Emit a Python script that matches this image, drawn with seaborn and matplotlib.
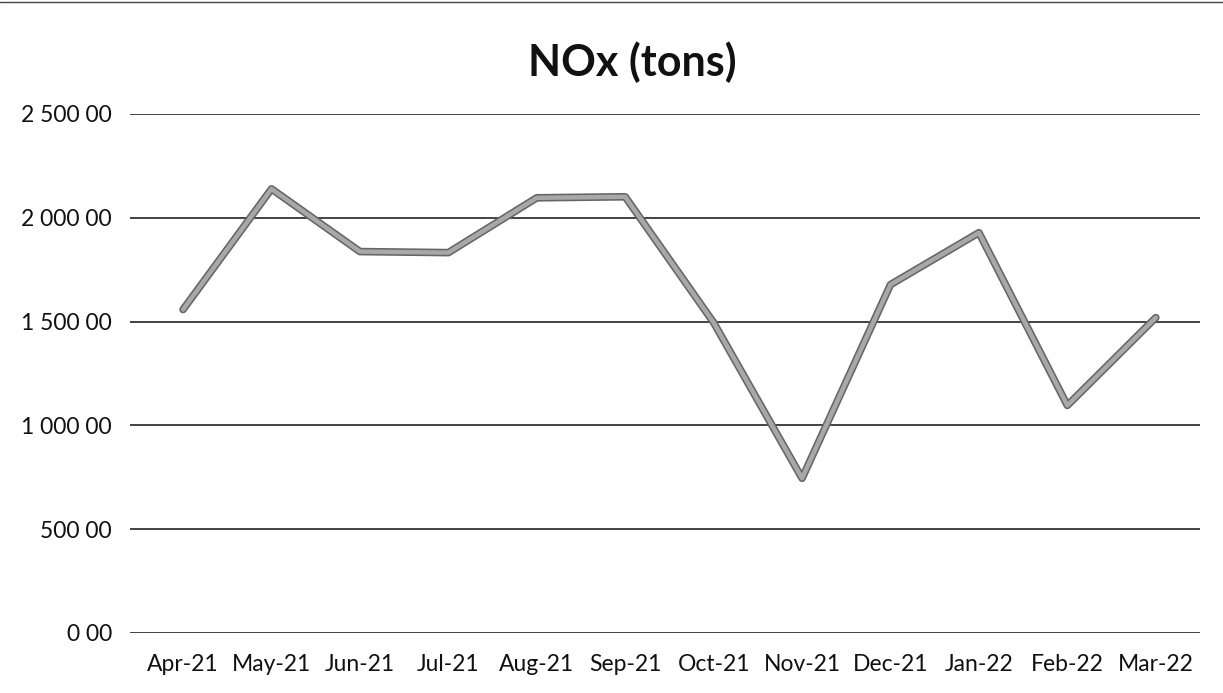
import seaborn as sns
import matplotlib.pyplot as plt
import matplotlib.patheffects as pe
from matplotlib.ticker import FuncFormatter
from matplotlib.lines import Line2D
import pandas as pd

months = ['Apr-21', 'May-21', 'Jun-21', 'Jul-21', 'Aug-21', 'Sep-21',
          'Oct-21', 'Nov-21', 'Dec-21', 'Jan-22', 'Feb-22', 'Mar-22']
nox = [1558, 2139, 1837, 1832, 2096, 2101, 1495, 745, 1678, 1928, 1096, 1519]
yticks = [0, 500, 1000, 1500, 2000, 2500]

df = pd.DataFrame({'Month': months, 'NOx': nox})
df['pos'] = range(len(months))

sns.set_theme(style="white")
plt.rcParams['font.family'] = ['Lato', 'DejaVu Sans']

fig = plt.figure(figsize=(12.23, 6.93), dpi=100)
ax = fig.add_axes([0.1063, 0.0866, 0.8749, 0.749])

# horizontal gridlines
for v in yticks:
    ax.axhline(v, color='#222222', lw=1.2, zorder=1)

sns.lineplot(data=df, x='pos', y='NOx', ax=ax, color='#a8a8a8', lw=3.2,
             zorder=3, sort=False,
             path_effects=[pe.Stroke(linewidth=5.5, foreground='#666666'), pe.Normal()])

ax.set_xlim(-0.6, 11.5)
ax.set_ylim(0, 2500)
ax.set_xticks(df['pos'])
ax.set_xticklabels(months)
ax.set_yticks(yticks)
ax.yaxis.set_major_formatter(FuncFormatter(lambda v, p: f"{v:,.0f} 00".replace(',', ' ')))
ax.tick_params(axis='both', length=0, labelsize=16.5, colors='#111111')
ax.tick_params(axis='x', pad=15)
ax.tick_params(axis='y', pad=13)
ax.set_xlabel('')
ax.set_ylabel('')
for s in ax.spines.values():
    s.set_visible(False)

fig.text(0.517, 0.91, 'NOx (tons)', ha='center', va='center',
         fontsize=31, fontweight='bold', color='#111111')

# thin frame line at the top of the scan
fig.add_artist(Line2D([0, 1], [0.997, 0.997], transform=fig.transFigure,
                      color='#444444', lw=1))

fig.savefig('out.png', dpi=100)
